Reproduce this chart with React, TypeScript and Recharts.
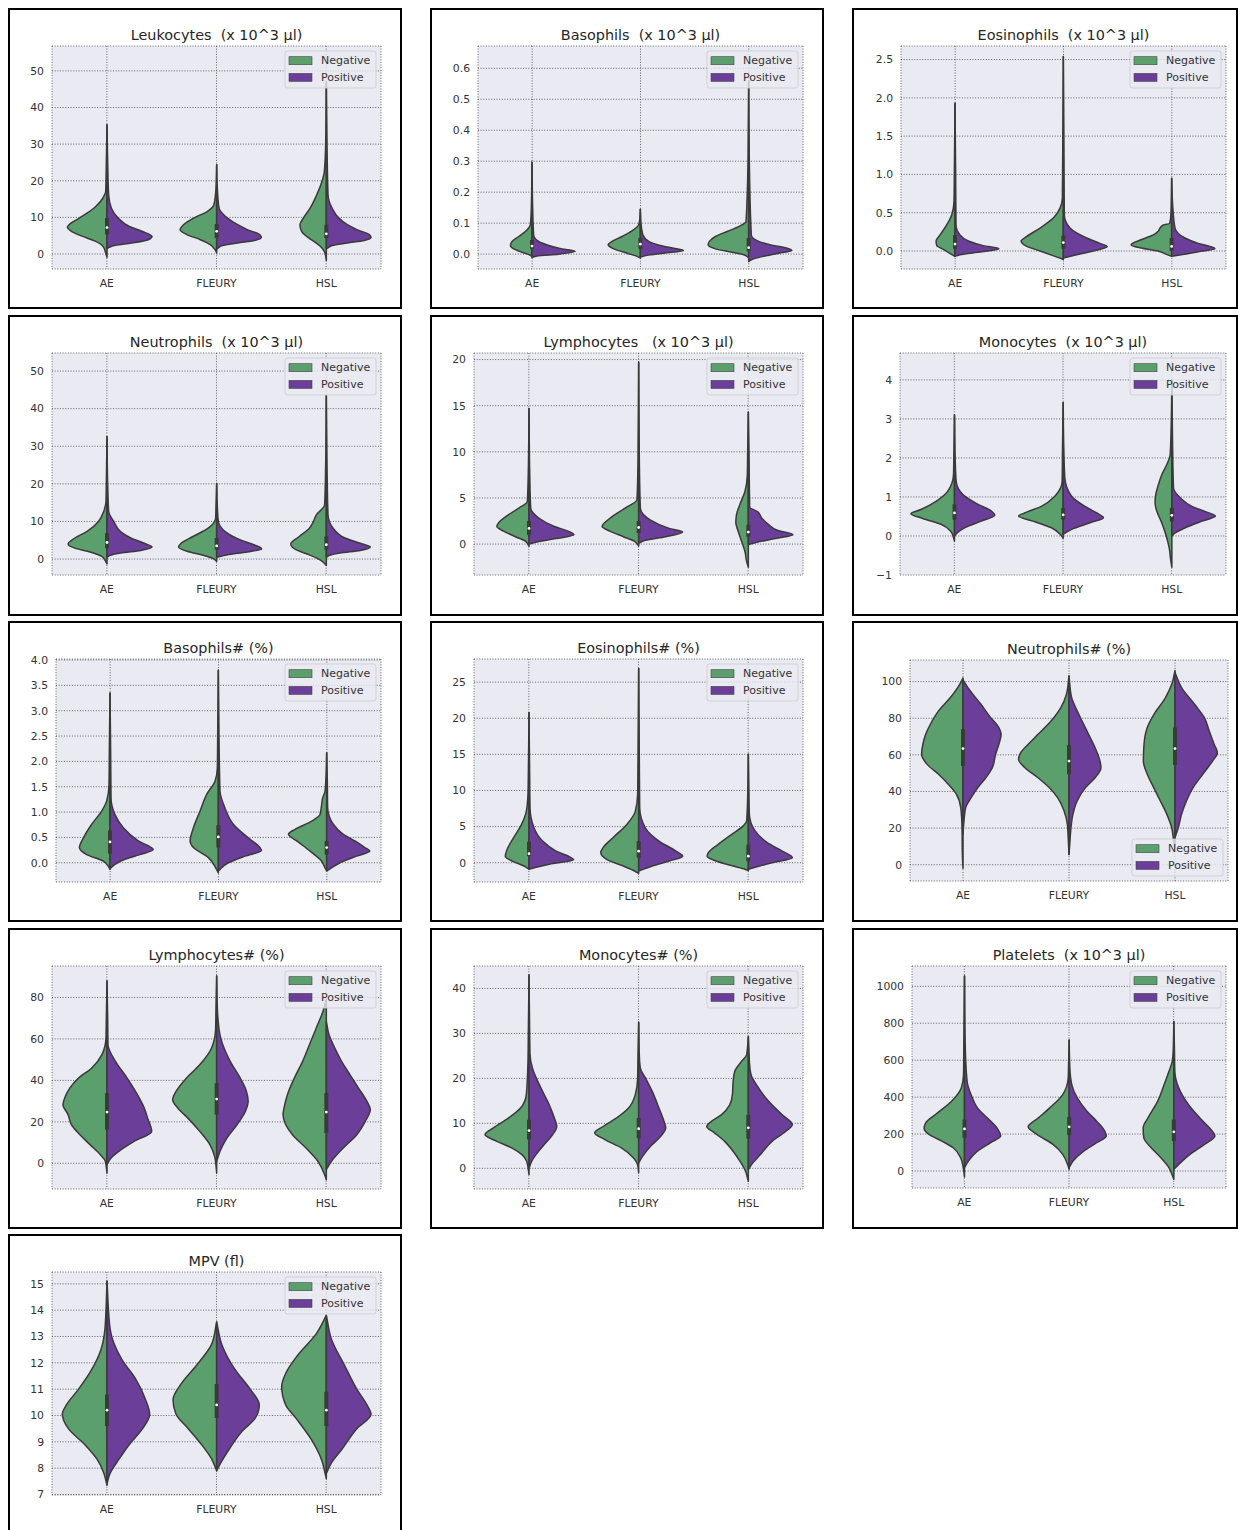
import React from 'react';
import { BarChart, Bar, XAxis, YAxis, CartesianGrid } from 'recharts';

// A profile is a list of [value, relative density] pairs, ordered from the top of the violin down.
type Profile = [number, number][];
// [first quartile, median, third quartile]
type Quartiles = [number, number, number];

const CATEGORIES = ['AE', 'FLEURY', 'HSL'];
const SERIES_NAMES = ['Negative', 'Positive'];

// ---------- Leukocytes ----------
const leukocytesNegative: Profile[] = [
  [[35.3, 0], [25, 2], [17, 4], [16.2, 7], [12.5, 39], [9.8, 82], [8.0, 112], [7.4, 117], [6.2, 105], [4.8, 72], [3.5, 35], [2.1, 12], [0.3, 4], [-0.9, 0]],
  [[24.4, 0], [18, 2], [13.5, 8], [11.6, 28], [9.8, 68], [8.0, 98], [6.6, 108], [5.3, 88], [3.9, 48], [2.5, 18], [1.2, 5], [0.3, 0]],
  [[47, 0], [30, 2], [22.5, 6], [19.8, 13], [16.2, 28], [12.5, 48], [9.8, 68], [8.0, 78], [6.2, 73], [4.8, 58], [3.5, 38], [2.1, 18], [0.7, 6], [-0.6, 2], [-1.8, 0]],
];
const leukocytesPositive: Profile[] = [
  [[35.3, 0], [25, 2], [16, 5], [12.5, 13], [9.8, 33], [7.5, 66], [6.2, 103], [4.8, 133], [3.9, 122], [3.0, 72], [2.4, 25], [1.8, 6], [1.4, 0]],
  [[24.4, 0], [18, 2], [12.5, 7], [9.8, 32], [8.0, 62], [6.6, 92], [5.3, 127], [4.5, 132], [3.7, 112], [3.0, 62], [2.3, 17], [1.6, 4], [1.2, 0]],
  [[47, 0], [30, 2], [16.2, 5], [12.5, 17], [9.8, 37], [8.0, 62], [6.6, 92], [5.3, 127], [4.5, 132], [3.7, 112], [3.0, 62], [2.3, 17], [1.6, 4], [1.4, 0]],
];
const leukocytesBox: Quartiles[] = [[5.3, 7.2, 9.8], [4.4, 6.2, 8.2], [4.4, 5.5, 8.0]];
const leukocytesTicks = [0, 10, 20, 30, 40, 50];

// ---------- Basophils ----------
const basophilsNegative: Profile[] = [
  [[0.297, 0], [0.15, 2], [0.095, 5], [0.073, 20], [0.057, 40], [0.041, 60], [0.028, 65], [0.017, 55], [0.006, 30], [-0.002, 8], [-0.008, 0]],
  [[0.145, 0], [0.11, 2], [0.095, 5], [0.075, 25], [0.057, 55], [0.041, 85], [0.030, 97], [0.017, 80], [0.003, 40], [-0.008, 8], [-0.013, 0]],
  [[0.56, 0], [0.3, 2], [0.105, 8], [0.089, 30], [0.073, 65], [0.057, 100], [0.041, 118], [0.030, 122], [0.017, 100], [0.006, 50], [-0.002, 15], [-0.011, 0]],
];
const basophilsPositive: Profile[] = [
  [[0.297, 0], [0.15, 2], [0.062, 5], [0.041, 20], [0.028, 50], [0.017, 90], [0.009, 130], [0.0, 80], [-0.006, 15], [-0.011, 0]],
  [[0.145, 0], [0.1, 2], [0.062, 8], [0.041, 25], [0.028, 60], [0.019, 100], [0.012, 130], [0.003, 70], [-0.004, 20], [-0.01, 0]],
  [[0.56, 0], [0.3, 2], [0.062, 8], [0.041, 30], [0.028, 75], [0.019, 115], [0.012, 130], [0.003, 90], [-0.008, 40], [-0.018, 8], [-0.024, 0]],
];
const basophilsBox: Quartiles[] = [[0.017, 0.026, 0.046], [0.017, 0.032, 0.052], [0.009, 0.021, 0.052]];
const basophilsTicks = [0, 0.1, 0.2, 0.3, 0.4, 0.5, 0.6];

// ---------- Eosinophils ----------
const eosinophilsNegative: Profile[] = [
  [[1.93, 0], [1.0, 2], [0.65, 3], [0.47, 10], [0.34, 25], [0.21, 45], [0.13, 57], [0.07, 55], [0.02, 35], [-0.04, 12], [-0.07, 0]],
  [[2.54, 0], [1.2, 2], [0.69, 3], [0.56, 10], [0.43, 30], [0.30, 70], [0.19, 110], [0.13, 127], [0.06, 110], [0.0, 70], [-0.07, 25], [-0.11, 0]],
  [[0.95, 0], [0.5, 2], [0.36, 6], [0.34, 25], [0.30, 35], [0.26, 40], [0.21, 55], [0.15, 90], [0.08, 122], [0.04, 92], [0.0, 42], [-0.05, 12], [-0.07, 0]],
];
const eosinophilsPositive: Profile[] = [
  [[1.93, 0], [1.0, 2], [0.34, 3], [0.21, 15], [0.13, 40], [0.07, 85], [0.03, 132], [-0.01, 80], [-0.05, 15], [-0.07, 0]],
  [[2.54, 0], [1.2, 2], [0.47, 3], [0.30, 20], [0.17, 70], [0.10, 110], [0.06, 132], [0.0, 90], [-0.05, 40], [-0.09, 0]],
  [[0.95, 0], [0.6, 3], [0.30, 10], [0.17, 40], [0.10, 80], [0.06, 115], [0.03, 130], [-0.01, 80], [-0.06, 15], [-0.07, 0]],
];
const eosinophilsBox: Quartiles[] = [[0.03, 0.09, 0.21], [0.03, 0.11, 0.2], [0.0, 0.06, 0.17]];
const eosinophilsTicks = [0, 0.5, 1.0, 1.5, 2.0, 2.5];

// ---------- Neutrophils ----------
const neutrophilsNegative: Profile[] = [
  [[32.5, 0], [20, 2], [15.3, 3], [12.6, 10], [10, 25], [7.3, 60], [5.6, 95], [4.0, 115], [2.9, 95], [1.9, 50], [0.7, 15], [-0.6, 4], [-1.3, 0]],
  [[20.1, 0], [14, 2], [10.9, 3], [8.2, 25], [6.0, 70], [4.2, 105], [3.2, 113], [2.0, 85], [1.0, 40], [0.1, 10], [-0.6, 0]],
  [[43.5, 0], [25, 2], [14.4, 5], [11.7, 30], [10, 38], [8.2, 50], [6.0, 80], [4.0, 105], [2.5, 90], [1.1, 50], [-0.4, 15], [-1.7, 0]],
];
const neutrophilsPositive: Profile[] = [
  [[32.5, 0], [20, 2], [12.6, 5], [10, 20], [7.3, 40], [5.6, 70], [4.2, 110], [3.2, 133], [2.3, 100], [1.6, 40], [1.0, 10], [0.4, 0]],
  [[20.1, 0], [14, 2], [10, 5], [7.3, 25], [5.1, 70], [3.8, 110], [2.7, 133], [1.9, 90], [1.1, 30], [0.5, 0]],
  [[43.5, 0], [25, 2], [11.7, 5], [8.2, 20], [5.6, 55], [4.2, 100], [3.2, 130], [2.3, 100], [1.6, 40], [1.0, 10], [0.5, 0]],
];
const neutrophilsBox: Quartiles[] = [[2.9, 4.4, 6.9], [2.5, 3.5, 5.6], [2.5, 3.8, 6.0]];
const neutrophilsTicks = [0, 10, 20, 30, 40, 50];

// ---------- Lymphocytes ----------
const lymphocytesNegative: Profile[] = [
  [[14.7, 0], [8, 2], [4.6, 5], [3.9, 30], [3.2, 60], [2.5, 85], [1.9, 95], [1.4, 75], [0.8, 40], [0.3, 10], [-0.25, 0]],
  [[19.7, 0], [9, 2], [4.8, 5], [3.9, 40], [2.8, 85], [1.9, 108], [1.4, 85], [0.8, 45], [0.3, 12], [-0.2, 0]],
  [[14.3, 0], [10, 2], [7.5, 3], [5.7, 10], [4.3, 25], [3.2, 35], [2.3, 37], [1.4, 30], [0.3, 20], [-0.8, 10], [-1.9, 5], [-2.5, 0]],
];
const lymphocytesPositive: Profile[] = [
  [[14.7, 0], [8, 2], [3.9, 5], [2.8, 30], [1.9, 75], [1.4, 115], [1.0, 133], [0.6, 80], [0.2, 20], [0, 0]],
  [[19.7, 0], [9, 2], [3.9, 5], [2.6, 35], [1.7, 90], [1.3, 130], [0.8, 80], [0.4, 20], [0.1, 0]],
  [[14.3, 0], [10, 2], [4.0, 4], [3.5, 28], [2.8, 40], [2.1, 60], [1.5, 85], [1.0, 132], [0.6, 80], [0.2, 25], [-0.05, 0]],
];
const lymphocytesBox: Quartiles[] = [[1.0, 1.7, 2.5], [1.2, 1.8, 2.5], [0.8, 1.3, 2.1]];
const lymphocytesTicks = [0, 5, 10, 15, 20];

// ---------- Monocytes ----------
const monocytesNegative: Profile[] = [
  [[3.1, 0], [2.0, 2], [1.57, 3], [1.15, 20], [0.89, 55], [0.68, 100], [0.57, 130], [0.45, 95], [0.30, 40], [0.13, 12], [-0.04, 3], [-0.13, 0]],
  [[3.42, 0], [2.2, 2], [1.4, 3], [1.02, 25], [0.76, 65], [0.59, 115], [0.51, 133], [0.38, 90], [0.21, 35], [0.04, 8], [-0.06, 0]],
  [[4.0, 0], [2.8, 2], [2.08, 5], [1.83, 15], [1.57, 30], [1.32, 40], [1.06, 48], [0.85, 50], [0.64, 45], [0.38, 32], [0.04, 18], [-0.3, 8], [-0.64, 3], [-0.8, 0]],
];
const monocytesPositive: Profile[] = [
  [[3.1, 0], [2.0, 2], [1.4, 5], [1.06, 25], [0.81, 70], [0.64, 110], [0.53, 120], [0.38, 80], [0.21, 30], [0.08, 8], [0, 0]],
  [[3.42, 0], [2.2, 2], [1.49, 5], [1.02, 25], [0.76, 65], [0.59, 100], [0.47, 120], [0.34, 80], [0.17, 25], [0.04, 0]],
  [[4.0, 0], [2.5, 2], [1.23, 5], [0.98, 25], [0.76, 60], [0.64, 95], [0.51, 130], [0.38, 90], [0.21, 40], [0.08, 10], [0, 0]],
];
const monocytesBox: Quartiles[] = [[0.42, 0.59, 0.81], [0.42, 0.54, 0.72], [0.37, 0.53, 0.72]];
const monocytesTicks = [-1, 0, 1, 2, 3, 4];

// ---------- Basophils# (%) ----------
const basophilsPctNegative: Profile[] = [
  [[3.35, 0], [2.2, 2], [1.54, 3], [1.22, 10], [1.02, 25], [0.76, 55], [0.49, 80], [0.30, 92], [0.16, 70], [0.03, 20], [-0.07, 5], [-0.13, 0]],
  [[3.8, 0], [2.5, 2], [1.87, 3], [1.61, 10], [1.35, 35], [1.02, 55], [0.69, 75], [0.43, 85], [0.30, 75], [0.10, 30], [-0.10, 8], [-0.2, 0]],
  [[2.17, 0], [1.7, 2], [1.41, 5], [1.28, 12], [1.15, 15], [0.95, 20], [0.82, 45], [0.66, 95], [0.56, 115], [0.43, 90], [0.23, 50], [0.03, 15], [-0.1, 5], [-0.16, 0]],
];
const basophilsPctPositive: Profile[] = [
  [[3.35, 0], [2.2, 2], [1.28, 3], [0.95, 15], [0.69, 40], [0.43, 85], [0.26, 130], [0.16, 90], [0.07, 45], [-0.03, 15], [-0.12, 0]],
  [[3.8, 0], [2.5, 2], [1.41, 5], [1.08, 20], [0.76, 45], [0.49, 90], [0.30, 125], [0.24, 130], [0.13, 80], [0.0, 30], [-0.13, 5], [-0.16, 0]],
  [[2.17, 0], [1.6, 2], [1.08, 3], [0.76, 20], [0.56, 50], [0.43, 85], [0.30, 115], [0.23, 130], [0.13, 90], [0.0, 40], [-0.13, 8], [-0.16, 0]],
];
const basophilsPctBox: Quartiles[] = [[0.18, 0.41, 0.64], [0.30, 0.51, 0.74], [0.16, 0.30, 0.43]];
const basophilsPctTicks = [0, 0.5, 1.0, 1.5, 2.0, 2.5, 3.0, 3.5, 4.0];

// ---------- Eosinophils# (%) ----------
const eosinophilsPctNegative: Profile[] = [
  [[20.8, 0], [12, 2], [9.5, 3], [7.1, 8], [5.3, 22], [3.5, 45], [1.8, 65], [0.9, 70], [0.23, 50], [-0.46, 15], [-0.9, 0]],
  [[26.9, 0], [14, 2], [9.5, 3], [7.1, 10], [5.3, 35], [3.5, 75], [2.1, 105], [1.4, 112], [0.46, 95], [-0.46, 45], [-1.15, 12], [-1.5, 0]],
  [[15.0, 0], [9, 2], [5.8, 5], [5.1, 15], [3.9, 50], [2.5, 90], [1.4, 118], [0.9, 122], [0.23, 95], [-0.46, 45], [-0.9, 10], [-1.1, 0]],
];
const eosinophilsPctPositive: Profile[] = [
  [[20.8, 0], [12, 2], [7.6, 3], [4.8, 15], [3.0, 40], [1.6, 80], [0.8, 120], [0.4, 132], [-0.2, 60], [-0.7, 15], [-0.9, 0]],
  [[26.9, 0], [14, 2], [7.6, 3], [4.8, 20], [3.0, 60], [1.6, 110], [0.9, 130], [0.23, 90], [-0.46, 40], [-1.15, 0]],
  [[15.0, 0], [9, 2], [6.7, 3], [4.4, 20], [2.8, 55], [1.6, 100], [0.7, 130], [0.0, 70], [-0.7, 15], [-0.9, 0]],
];
const eosinophilsPctBox: Quartiles[] = [[0.9, 1.25, 2.9], [0.7, 1.6, 3.0], [0.2, 0.9, 2.5]];
const eosinophilsPctTicks = [0, 5, 10, 15, 20, 25];

// ---------- Neutrophils# (%) ----------
const neutrophilsPctNegative: Profile[] = [
  [[102, 0], [98.5, 10], [91, 40], [84, 75], [76.7, 100], [71, 115], [65.8, 123], [60.3, 127], [54.8, 110], [49.4, 75], [43.9, 45], [38.4, 20], [31.1, 7], [20.2, 3], [5.6, 2], [-2, 0]],
  [[103, 0], [93, 8], [85.8, 25], [78.5, 55], [71.2, 95], [65.8, 125], [61.2, 148], [57.6, 155], [53, 135], [47.5, 95], [42, 60], [36.6, 35], [29.3, 15], [22, 5], [12.9, 2], [5.6, 0]],
  [[106, 0], [98.5, 10], [91, 30], [82, 65], [74.9, 85], [65.8, 95], [56.6, 97], [49.4, 85], [42, 65], [34.8, 45], [27.5, 25], [20.2, 10], [12.9, 4], [9.3, 0]],
];
const neutrophilsPctPositive: Profile[] = [
  [[101, 0], [96.7, 15], [87.6, 55], [80.3, 85], [74.9, 110], [71.2, 117], [65.8, 110], [60.3, 100], [53, 90], [47.5, 70], [42, 45], [36.6, 25], [31.1, 8], [23.9, 3], [16.6, 0]],
  [[103, 0], [91.3, 8], [84, 25], [78.5, 40], [71.2, 60], [63.9, 80], [56.6, 95], [53, 98], [47.5, 80], [42, 50], [34.8, 25], [27.5, 12], [20.2, 6], [12.9, 3], [5.6, 0]],
  [[105, 0], [96.7, 20], [87.6, 60], [80.3, 90], [73, 105], [65.8, 120], [61.2, 130], [56.6, 115], [49.4, 85], [42, 55], [34.8, 35], [27.5, 20], [20.2, 10], [14.8, 0]],
];
const neutrophilsPctBox: Quartiles[] = [[53.9, 63.4, 74], [49.4, 56.6, 65.4], [54.5, 63.4, 74.9]];
const neutrophilsPctTicks = [0, 20, 40, 60, 80, 100];

// ---------- Lymphocytes# (%) ----------
const lymphocytesPctNegative: Profile[] = [
  [[88, 0], [70, 2], [60.4, 3], [52.4, 15], [46, 45], [41, 85], [36.3, 110], [31.5, 125], [28.3, 130], [23.5, 115], [18.6, 105], [13.8, 80], [9, 50], [4.2, 20], [1, 5], [-4.7, 0]],
  [[90.4, 0], [75, 2], [65, 3], [55.6, 15], [47.5, 50], [41, 90], [34.7, 120], [30.7, 130], [26.7, 115], [21.8, 85], [15.4, 50], [9, 20], [2.6, 5], [-4.7, 0]],
  [[79, 0], [73.3, 10], [65.2, 30], [57.2, 50], [49.2, 70], [41, 95], [33.1, 115], [26.7, 125], [23.5, 128], [18.6, 120], [13.8, 100], [7.4, 60], [1, 25], [-5.5, 5], [-7.9, 0]],
];
const lymphocytesPctPositive: Profile[] = [
  [[88, 0], [70, 2], [57.2, 3], [49.2, 25], [41, 60], [33.1, 90], [26.7, 110], [21.8, 120], [15.4, 132], [10.6, 80], [5.8, 35], [2.6, 12], [-0.6, 0]],
  [[90.4, 0], [75, 2], [71.6, 3], [60.4, 12], [49.2, 40], [41, 70], [34.7, 88], [29.9, 93], [25.1, 85], [18.6, 60], [12.2, 30], [5.8, 10], [1, 0]],
  [[68.4, 0], [62, 8], [55.6, 25], [49.2, 45], [42.7, 70], [36.3, 95], [29.9, 120], [25.9, 130], [20.2, 115], [13.8, 90], [7.4, 50], [1, 15], [-3, 0]],
];
const lymphocytesPctBox: Quartiles[] = [[16.2, 24.7, 33.9], [23.5, 31, 38.7], [14.6, 24.7, 33.9]];
const lymphocytesPctTicks = [0, 20, 40, 60, 80];

// ---------- Monocytes# (%) ----------
const monocytesPctNegative: Profile[] = [
  [[43, 0], [30, 2], [23.8, 3], [16.4, 8], [13.4, 25], [11.2, 60], [9, 105], [7.5, 130], [6, 95], [4.5, 50], [3, 20], [1.6, 7], [-1.4, 0]],
  [[32.5, 0], [25, 2], [20.1, 3], [16.4, 10], [13.4, 30], [11.2, 65], [9.3, 105], [7.9, 130], [6.4, 100], [4.5, 50], [2.3, 15], [0.8, 3], [-1, 0]],
  [[29.3, 0], [25.3, 5], [23.8, 20], [21.6, 40], [19.3, 45], [16.4, 47], [14.1, 55], [11.9, 80], [10.4, 110], [9.3, 123], [7.9, 100], [6, 70], [3.8, 45], [1.6, 25], [-0.7, 8], [-2.9, 0]],
];
const monocytesPctPositive: Profile[] = [
  [[43, 0], [30, 2], [25.3, 3], [22.3, 10], [17.9, 35], [14.1, 60], [11.2, 75], [9.3, 82], [7.5, 70], [5.3, 45], [3, 20], [1.6, 8], [0, 0]],
  [[32.5, 0], [25, 2], [22.3, 5], [20.1, 20], [17.1, 40], [13.4, 60], [10.4, 75], [9, 80], [7.1, 65], [4.9, 35], [2.7, 12], [1.2, 0]],
  [[29.3, 0], [26, 2], [23.8, 3], [20.8, 8], [17.9, 30], [14.9, 60], [11.9, 100], [9.7, 130], [8.2, 110], [6, 70], [3, 35], [1.1, 12], [-0.3, 0]],
];
const monocytesPctBox: Quartiles[] = [[6.4, 8.4, 10.8], [6.7, 8.8, 11.2], [6.6, 9, 11.9]];
const monocytesPctTicks = [0, 10, 20, 30, 40];

// ---------- Platelets ----------
const plateletsNegative: Profile[] = [
  [[1056, 0], [700, 2], [522, 3], [450, 10], [378, 40], [306, 90], [261, 120], [230, 125], [198, 110], [162, 70], [126, 35], [72, 12], [18, 4], [-32, 0]],
  [[710, 0], [560, 2], [504, 3], [414, 20], [342, 60], [288, 95], [239, 127], [198, 100], [144, 50], [90, 20], [36, 5], [9, 0]],
  [[810, 0], [650, 2], [594, 5], [540, 15], [468, 30], [378, 50], [288, 80], [234, 95], [180, 93], [126, 70], [72, 40], [18, 15], [-27, 4], [-45, 0]],
];
const plateletsPositive: Profile[] = [
  [[1056, 0], [700, 2], [486, 8], [414, 20], [342, 40], [288, 70], [234, 100], [189, 112], [153, 80], [108, 40], [54, 12], [18, 0]],
  [[710, 0], [560, 2], [468, 8], [396, 25], [324, 55], [270, 85], [216, 110], [189, 115], [153, 85], [108, 45], [54, 12], [18, 0]],
  [[810, 0], [650, 2], [540, 3], [450, 15], [360, 45], [288, 80], [234, 110], [189, 127], [144, 95], [90, 50], [36, 15], [9, 0]],
];
const plateletsBox: Quartiles[] = [[180, 228, 279], [194, 239, 293], [162, 212, 279]];
const plateletsTicks = [0, 200, 400, 600, 800, 1000];

// ---------- MPV ----------
const mpvNegative: Profile[] = [
  [[15.1, 0], [13.3, 6], [12.5, 18], [11.75, 45], [11.0, 84], [10.4, 120], [10.05, 132], [9.5, 114], [8.9, 66], [8.35, 30], [7.8, 9], [7.35, 0]],
  [[13.55, 0], [12.7, 15], [11.9, 60], [11.2, 105], [10.6, 129], [10.05, 120], [9.5, 84], [8.9, 45], [8.35, 15], [7.9, 0]],
  [[13.8, 0], [13.1, 30], [12.3, 84], [11.6, 120], [11.1, 132], [10.4, 120], [9.9, 90], [9.1, 45], [8.35, 15], [7.6, 0]],
];
const mpvPositive: Profile[] = [
  [[15.1, 0], [13.3, 9], [12.1, 45], [11.4, 84], [10.6, 114], [10.05, 126], [9.5, 105], [8.9, 66], [8.35, 36], [7.8, 9], [7.4, 0]],
  [[13.55, 0], [12.7, 15], [11.75, 54], [11.0, 99], [10.4, 126], [9.9, 114], [9.4, 75], [8.7, 36], [8.2, 12], [7.9, 0]],
  [[13.8, 0], [12.9, 15], [11.9, 54], [11.0, 90], [10.4, 120], [10.05, 132], [9.5, 90], [8.7, 45], [8.2, 15], [7.8, 0]],
];
const mpvBox: Quartiles[] = [[9.6, 10.2, 10.8], [9.9, 10.4, 11.2], [9.6, 10.2, 10.9]];
const mpvTicks = [7, 8, 9, 10, 11, 12, 13, 14, 15];

// ---------- styling ----------
const COLORS = {
  negative: '#5B9F6D',
  positive: '#6B3E99',
  edge: '#3a3a3a',
  grid: '#555555',
  background: '#EAEAF2',
  text: '#333333',
  title: '#262626',
};
const FONT = '"DejaVu Sans", "Liberation Sans", sans-serif';
// Relative density of 130 spans 40% of a category band on one side.
const DENSITY_TO_BAND = 0.4 / 130;

const COL_X = [8, 430, 852];
const ROW_Y = [8, 315, 621, 928, 1234];
const PANEL_H = 301;

interface PanelSpec {
  title: string;
  negative: Profile[];
  positive: Profile[];
  box: Quartiles[];
  ticks: number[];
  domain: [number, number];
  decimals: number;
  col: number;
  row: number;
  plotLeft: number;
  plotRight: number;
  plotTop: number;
  plotBottom: number;
  legendBottom?: boolean;
}

const PANELS: PanelSpec[] = [
  { title: 'Leukocytes  (x 10^3 µl)', negative: leukocytesNegative, positive: leukocytesPositive, box: leukocytesBox, ticks: leukocytesTicks, domain: [-4.1, 56.8], decimals: 0, col: 0, row: 0, plotLeft: 44, plotRight: 373, plotTop: 38, plotBottom: 261 },
  { title: 'Basophils  (x 10^3 µl)', negative: basophilsNegative, positive: basophilsPositive, box: basophilsBox, ticks: basophilsTicks, domain: [-0.048, 0.672], decimals: 1, col: 1, row: 0, plotLeft: 48, plotRight: 373, plotTop: 38, plotBottom: 261 },
  { title: 'Eosinophils  (x 10^3 µl)', negative: eosinophilsNegative, positive: eosinophilsPositive, box: eosinophilsBox, ticks: eosinophilsTicks, domain: [-0.235, 2.677], decimals: 1, col: 2, row: 0, plotLeft: 49, plotRight: 374, plotTop: 38, plotBottom: 261 },
  { title: 'Neutrophils  (x 10^3 µl)', negative: neutrophilsNegative, positive: neutrophilsPositive, box: neutrophilsBox, ticks: neutrophilsTicks, domain: [-4.24, 54.8], decimals: 0, col: 0, row: 1, plotLeft: 44, plotRight: 373, plotTop: 38, plotBottom: 260 },
  { title: 'Lymphocytes   (x 10^3 µl)', negative: lymphocytesNegative, positive: lymphocytesPositive, box: lymphocytesBox, ticks: lymphocytesTicks, domain: [-3.35, 20.71], decimals: 0, col: 1, row: 1, plotLeft: 44, plotRight: 373, plotTop: 38, plotBottom: 260 },
  { title: 'Monocytes  (x 10^3 µl)', negative: monocytesNegative, positive: monocytesPositive, box: monocytesBox, ticks: monocytesTicks, domain: [-1.0, 4.69], decimals: 0, col: 2, row: 1, plotLeft: 48, plotRight: 374, plotTop: 38, plotBottom: 260 },
  { title: 'Basophils# (%)', negative: basophilsPctNegative, positive: basophilsPctPositive, box: basophilsPctBox, ticks: basophilsPctTicks, domain: [-0.38, 4.02], decimals: 1, col: 0, row: 2, plotLeft: 48, plotRight: 373, plotTop: 38, plotBottom: 261 },
  { title: 'Eosinophils# (%)', negative: eosinophilsPctNegative, positive: eosinophilsPctPositive, box: eosinophilsPctBox, ticks: eosinophilsPctTicks, domain: [-2.67, 28.2], decimals: 0, col: 1, row: 2, plotLeft: 44, plotRight: 373, plotTop: 38, plotBottom: 261 },
  { title: 'Neutrophils# (%)', negative: neutrophilsPctNegative, positive: neutrophilsPctPositive, box: neutrophilsPctBox, ticks: neutrophilsPctTicks, domain: [-8.9, 111.8], decimals: 0, col: 2, row: 2, plotLeft: 58, plotRight: 376, plotTop: 39, plotBottom: 260, legendBottom: true },
  { title: 'Lymphocytes# (%)', negative: lymphocytesPctNegative, positive: lymphocytesPctPositive, box: lymphocytesPctBox, ticks: lymphocytesPctTicks, domain: [-12.4, 95.2], decimals: 0, col: 0, row: 3, plotLeft: 44, plotRight: 373, plotTop: 38, plotBottom: 261 },
  { title: 'Monocytes# (%)', negative: monocytesPctNegative, positive: monocytesPctPositive, box: monocytesPctBox, ticks: monocytesPctTicks, domain: [-4.6, 45.0], decimals: 0, col: 1, row: 3, plotLeft: 44, plotRight: 373, plotTop: 38, plotBottom: 261 },
  { title: 'Platelets  (x 10^3 µl)', negative: plateletsNegative, positive: plateletsPositive, box: plateletsBox, ticks: plateletsTicks, domain: [-92, 1110], decimals: 0, col: 2, row: 3, plotLeft: 60, plotRight: 374, plotTop: 38, plotBottom: 260 },
  { title: 'MPV (fl)', negative: mpvNegative, positive: mpvPositive, box: mpvBox, ticks: mpvTicks, domain: [6.98, 15.45], decimals: 0, col: 0, row: 4, plotLeft: 44, plotRight: 373, plotTop: 38, plotBottom: 261 },
];

// Monotone cubic through points whose y grows strictly (x is a function of y).
function monotoneVertical(pts: [number, number][]): string {
  const n = pts.length;
  const h: number[] = [];
  const s: number[] = [];
  for (let i = 0; i < n - 1; i++) {
    h[i] = pts[i + 1][1] - pts[i][1];
    s[i] = h[i] === 0 ? 0 : (pts[i + 1][0] - pts[i][0]) / h[i];
  }
  const m: number[] = new Array(n).fill(0);
  m[0] = s[0];
  m[n - 1] = s[n - 2];
  for (let i = 1; i < n - 1; i++) {
    if (s[i - 1] * s[i] <= 0) {
      m[i] = 0;
    } else {
      const p = (s[i - 1] * h[i] + s[i] * h[i - 1]) / (h[i - 1] + h[i]);
      m[i] = (Math.sign(s[i - 1]) + Math.sign(s[i])) * Math.min(Math.abs(s[i - 1]), Math.abs(s[i]), 0.5 * Math.abs(p));
    }
  }
  let d = `M${pts[0][0]},${pts[0][1]}`;
  for (let i = 0; i < n - 1; i++) {
    const t = h[i] / 3;
    d += ` C${pts[i][0] + m[i] * t},${pts[i][1] + t} ${pts[i + 1][0] - m[i + 1] * t},${pts[i + 1][1] - t} ${pts[i + 1][0]},${pts[i + 1][1]}`;
  }
  return d;
}

// Draws one split violin inside the band that the range bar occupies.
function ViolinShape(props: any) {
  const { x, y, width, height, payload } = props;
  if (!payload || !isFinite(y) || !isFinite(height)) return null;
  const [lo, hi] = payload.extent as [number, number];
  const top = Math.min(y, y + height);
  const bottom = Math.max(y, y + height);
  const toY = (v: number) => top + ((hi - v) / (hi - lo)) * (bottom - top);
  const cx = x + width / 2;
  const halfPath = (profile: Profile, side: number) => {
    const pts = profile.map(([v, dens]) => [cx + side * dens * DENSITY_TO_BAND * width, toY(v)] as [number, number]);
    return `${monotoneVertical(pts)} L${cx},${pts[pts.length - 1][1]} L${cx},${pts[0][1]} Z`;
  };
  const [q1, med, q3] = payload.box as Quartiles;
  return (
    <g>
      <path d={halfPath(payload.neg, -1)} fill={COLORS.negative} stroke={COLORS.edge} strokeWidth={1.5} strokeLinejoin="round" />
      <path d={halfPath(payload.pos, 1)} fill={COLORS.positive} stroke={COLORS.edge} strokeWidth={1.5} strokeLinejoin="round" />
      <line x1={cx} x2={cx} y1={toY(q3)} y2={toY(q1)} stroke={COLORS.edge} strokeWidth={4} />
      <circle cx={cx} cy={toY(med)} r={1.4} fill="#ffffff" />
    </g>
  );
}

function LegendBox({ x, y }: { x: number; y: number }) {
  const fills = [COLORS.negative, COLORS.positive];
  return (
    <g>
      <rect x={x} y={y} width={91} height={37} rx={2.5} fill={COLORS.background} fillOpacity={0.8} stroke="#cccccc" strokeOpacity={0.8} />
      {SERIES_NAMES.map((name, i) => (
        <g key={name}>
          <rect x={x + 4} y={y + 5.7 + i * 16.7} width={23} height={8} fill={fills[i]} stroke="#444444" strokeWidth={0.6} />
          <text x={x + 36} y={y + 13.4 + i * 16.7} fontSize={11} fill={COLORS.text} fontFamily={FONT}>
            {name}
          </text>
        </g>
      ))}
    </g>
  );
}

function formatTick(v: number, decimals: number): string {
  const s = Math.abs(v).toFixed(decimals);
  return v < 0 ? `\u2212${s}` : s;
}

function Panel({ spec }: { spec: PanelSpec }) {
  const width = spec.col === 2 ? 386 : 394;
  const data = CATEGORIES.map((cat, i) => {
    const values = [...spec.negative[i], ...spec.positive[i]].map((p) => p[0]);
    return {
      cat,
      extent: [Math.min(...values), Math.max(...values)],
      neg: spec.negative[i],
      pos: spec.positive[i],
      box: spec.box[i],
    };
  });
  const legendX = spec.plotRight - 5 - 91;
  const legendY = spec.legendBottom ? spec.plotBottom - 5 - 37 : spec.plotTop + 5;
  const tickStyle = { fill: COLORS.text, fontSize: 10.8, fontFamily: FONT };
  return (
    <div style={{ position: 'absolute', left: COL_X[spec.col], top: ROW_Y[spec.row], width, height: PANEL_H }}>
      <BarChart
        width={width}
        height={PANEL_H}
        data={data}
        margin={{ top: spec.plotTop, right: width - spec.plotRight, bottom: 0, left: 0 }}
        barCategoryGap={0}
      >
        <CartesianGrid fill={COLORS.background} stroke={COLORS.grid} strokeDasharray="1 1.65" strokeWidth={0.9} />
        <XAxis
          dataKey="cat"
          type="category"
          height={PANEL_H - spec.plotBottom}
          axisLine={false}
          tickLine={false}
          tickSize={0}
          tickMargin={10}
          interval={0}
          tick={tickStyle}
        />
        <YAxis
          type="number"
          domain={spec.domain}
          ticks={spec.ticks}
          allowDataOverflow
          width={spec.plotLeft}
          axisLine={false}
          tickLine={false}
          tickSize={0}
          tickMargin={8}
          interval={0}
          tick={tickStyle}
          tickFormatter={(v: number) => formatTick(v, spec.decimals)}
        />
        <Bar dataKey="extent" isAnimationActive={false} shape={ViolinShape} />
      </BarChart>
      <svg width={width} height={PANEL_H} style={{ position: 'absolute', left: 0, top: 0, pointerEvents: 'none' }}>
        <text
          x={(spec.plotLeft + spec.plotRight) / 2}
          y={spec.plotTop - 5.7}
          textAnchor="middle"
          fontSize={14.4}
          fill={COLORS.title}
          fontFamily={FONT}
          style={{ whiteSpace: 'pre' }}
        >
          {spec.title}
        </text>
        <LegendBox x={legendX} y={legendY} />
        <rect x={1} y={1} width={width - 2} height={PANEL_H - 2} fill="none" stroke="#000000" strokeWidth={2} />
      </svg>
    </div>
  );
}

export default function App() {
  return (
    <div
      style={{
        position: 'fixed',
        left: 0,
        top: 0,
        width: 1238,
        height: 1530,
        overflow: 'hidden',
        fontFamily: FONT,
        background: '#ffffff',
      }}
    >
      {PANELS.map((spec) => (
        <Panel key={spec.title} spec={spec} />
      ))}
    </div>
  );
}
